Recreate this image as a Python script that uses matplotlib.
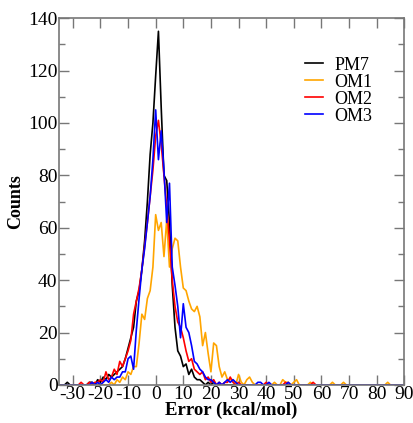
import numpy as np
import matplotlib
matplotlib.use('Agg')
import matplotlib.pyplot as plt
from matplotlib.ticker import MultipleLocator

plt.rcParams.update({
    'font.family': 'Liberation Serif',
    'font.size': 14,
    'axes.unicode_minus': False,
    'xtick.direction': 'in',
    'ytick.direction': 'in',
    'xtick.top': True,
    'ytick.right': True,
})

# bin centres, 1 kcal/mol wide
error = np.arange(-35, 91)

# counts per bin, rows of ten bins: -35..-26, -25..-16, ... , 85..90
pm7 = [0, 0, 0, 1, 0, 0, 0, 0, 0, 0,
       0, 1, 1, 0, 2, 1, 3, 2, 4, 3,
       4, 5, 6, 7, 10, 14, 18, 22, 32, 36,
       44, 55, 70, 88, 100, 118, 135, 106, 80, 78,
       62, 38, 22, 13, 11, 7, 8, 4, 6, 3,
       2, 2, 1, 0, 1, 0, 1, 0, 0, 0,
       0, 0, 0, 0, 0, 0, 0, 0, 0, 0,
       0, 0, 0, 0, 0, 0, 0, 0, 0, 0,
       0, 0, 0, 0, 0, 0, 0, 0, 0, 0,
       0, 0, 0, 0, 0, 0, 0, 0, 0, 0,
       0, 0, 0, 0, 0, 0, 0, 0, 0, 0,
       0, 0, 0, 0, 0, 0, 0, 0, 0, 0,
       0, 0, 0, 0, 0, 0]

om1 = [0, 0, 0, 0, 0, 0, 0, 0, 0, 0,
       0, 0, 0, 0, 0, 0, 0, 0, 0, 1,
       0, 2, 1, 3, 2, 5, 4, 7, 7, 16,
       27, 25, 33, 36, 45, 65, 59, 62, 49, 63,
       45, 52, 56, 55, 45, 37, 36, 32, 29, 28,
       30, 26, 15, 20, 12, 5, 16, 15, 7, 3,
       5, 2, 2, 2, 0, 4, 1, 0, 2, 3,
       1, 0, 0, 0, 0, 0, 0, 0, 1, 0,
       0, 2, 1, 1, 0, 1, 2, 0, 0, 0,
       0, 1, 0, 0, 0, 0, 0, 0, 0, 1,
       0, 0, 0, 1, 0, 0, 0, 0, 0, 0,
       0, 0, 0, 0, 0, 0, 0, 0, 0, 1,
       0, 0, 0, 0, 0, 0]

om2 = [0, 0, 0, 0, 0, 0, 0, 0, 1, 0,
       0, 1, 0, 1, 1, 2, 1, 5, 2, 3,
       6, 4, 9, 7, 10, 13, 17, 27, 32, 37,
       44, 53, 62, 72, 82, 95, 101, 92, 80, 68,
       55, 40, 30, 24, 22, 18, 13, 9, 10, 6,
       5, 4, 5, 2, 3, 1, 2, 0, 1, 0,
       1, 1, 3, 1, 0, 1, 0, 0, 0, 0,
       0, 0, 0, 0, 0, 1, 0, 0, 0, 0,
       0, 0, 1, 0, 0, 0, 0, 0, 0, 0,
       0, 0, 1, 0, 0, 0, 0, 0, 0, 0,
       0, 0, 0, 0, 0, 0, 0, 0, 0, 0,
       0, 0, 0, 0, 0, 0, 0, 0, 0, 0,
       0, 0, 0, 0, 0, 0]

om3 = [0, 0, 0, 0, 0, 0, 0, 0, 0, 0,
       0, 0, 1, 0, 1, 0, 1, 2, 1, 3,
       2, 3, 3, 5, 5, 10, 11, 6, 21, 33,
       44, 52, 62, 72, 86, 105, 86, 97, 82, 62,
       77, 45, 38, 30, 18, 31, 22, 20, 15, 9,
       8, 6, 5, 3, 2, 2, 1, 0, 1, 0,
       1, 2, 1, 2, 1, 0, 0, 0, 0, 0,
       0, 0, 1, 1, 0, 0, 1, 0, 0, 0,
       0, 0, 0, 1, 0, 0, 0, 0, 0, 0,
       0, 0, 0, 0, 0, 0, 0, 0, 0, 0,
       0, 0, 0, 0, 0, 0, 0, 0, 0, 0,
       0, 0, 0, 0, 0, 0, 0, 0, 0, 0,
       0, 0, 0, 0, 0, 0]

series = [('PM7', pm7, 'black'),
          ('OM1', om1, 'orange'),
          ('OM2', om2, 'red'),
          ('OM3', om3, 'blue')]

fig = plt.figure(figsize=(4.14, 4.23), dpi=100)
ax = fig.add_axes([0.1425, 0.09, 0.834, 0.867])

for name, counts, color in series:
    ax.plot(error, counts, color=color, lw=1.2, label=name)

ax.set_xlim(-35, 90)
ax.set_ylim(0, 140)
ax.xaxis.set_major_locator(MultipleLocator(10))
ax.yaxis.set_major_locator(MultipleLocator(20))
ax.yaxis.set_minor_locator(MultipleLocator(10))
ax.tick_params(which='major', length=7, width=1, color='#777777', pad=1)
ax.tick_params(which='minor', length=4, width=1, color='#777777')
for s in ax.spines.values():
    s.set_color('#777777')
    s.set_linewidth(1.2)

ax.set_xlabel('Error (kcal/mol)', fontsize=13.5, fontweight='bold', labelpad=-1)
ax.set_ylabel('Counts', fontsize=13, fontweight='bold', labelpad=3)

ax.legend(loc='upper left', bbox_to_anchor=(0.713, 0.895), frameon=False,
          handlelength=1.0, handletextpad=0.6, labelspacing=0.0,
          borderpad=0, borderaxespad=0, fontsize=13)

fig.savefig('out.png', dpi=100)
